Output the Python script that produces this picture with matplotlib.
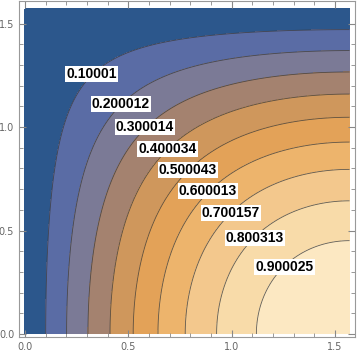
import numpy as np
import matplotlib
matplotlib.use("Agg")
from matplotlib import pyplot as plt
from matplotlib.colors import ListedColormap, BoundaryNorm

# contour levels and the labels printed on them
levels = [0.1, 0.2, 0.3, 0.4, 0.5, 0.6, 0.7, 0.8, 0.9]
labels = ["0.10001", "0.200012", "0.300014", "0.400034", "0.500043",
          "0.600013", "0.700157", "0.800313", "0.900025"]
# where each label sits (x, y)
label_x = [0.322, 0.464, 0.581, 0.689, 0.789, 0.885, 0.997, 1.113, 1.255]
label_y = [1.256, 1.111, 1.000, 0.894, 0.792, 0.691, 0.585, 0.464, 0.324]

band_colors = ["#2C578C", "#5A6CA5", "#7B7A96", "#A4826F", "#CF975C",
               "#E3A258", "#EDB46C", "#F3C88D", "#F8DBA9", "#FCE8C2"]

x = np.linspace(0, np.pi / 2, 300)
y = np.linspace(0, np.pi / 2, 300)
X, Y = np.meshgrid(x, y)
Z = np.sin(X) * np.cos(Y)

fig = plt.figure(figsize=(3.59, 3.54), dpi=100)
ax = fig.add_axes([19 / 359, 17 / 354, 336 / 359, 336 / 354])

bounds = [-0.01] + levels + [1.01]
cmap = ListedColormap(band_colors)
norm = BoundaryNorm(bounds, cmap.N)
ax.contourf(X, Y, Z, levels=bounds, cmap=cmap, norm=norm)
ax.contour(X, Y, Z, levels=levels, colors="#3a3a3a", linewidths=0.6, alpha=0.8)

for lx, ly, t in zip(label_x, label_y, labels):
    ax.text(lx, ly, t, ha="center", va="center", fontsize=10, fontweight="bold",
            family="Liberation Sans", color="black",
            bbox=dict(boxstyle="square,pad=0.08", fc="white", ec="none"))

ax.set_xlim(-0.029, 1.597)
ax.set_ylim(-0.0145, 1.609)
ax.set_xticks([0.0, 0.5, 1.0, 1.5])
ax.set_yticks([0.0, 0.5, 1.0, 1.5])
ax.set_xticks(np.arange(0, 1.6, 0.1), minor=True)
ax.set_yticks(np.arange(0, 1.6, 0.1), minor=True)
ax.tick_params(which="both", direction="in", top=True, right=True,
               color="#888888", labelcolor="#666666", labelsize=7,
               labeltop=False, labelright=False)
ax.tick_params(which="major", length=5)
ax.tick_params(which="minor", length=3)
for s in ax.spines.values():
    s.set_color("#999999")
    s.set_linewidth(0.8)

fig.savefig("out.png", dpi=100)
